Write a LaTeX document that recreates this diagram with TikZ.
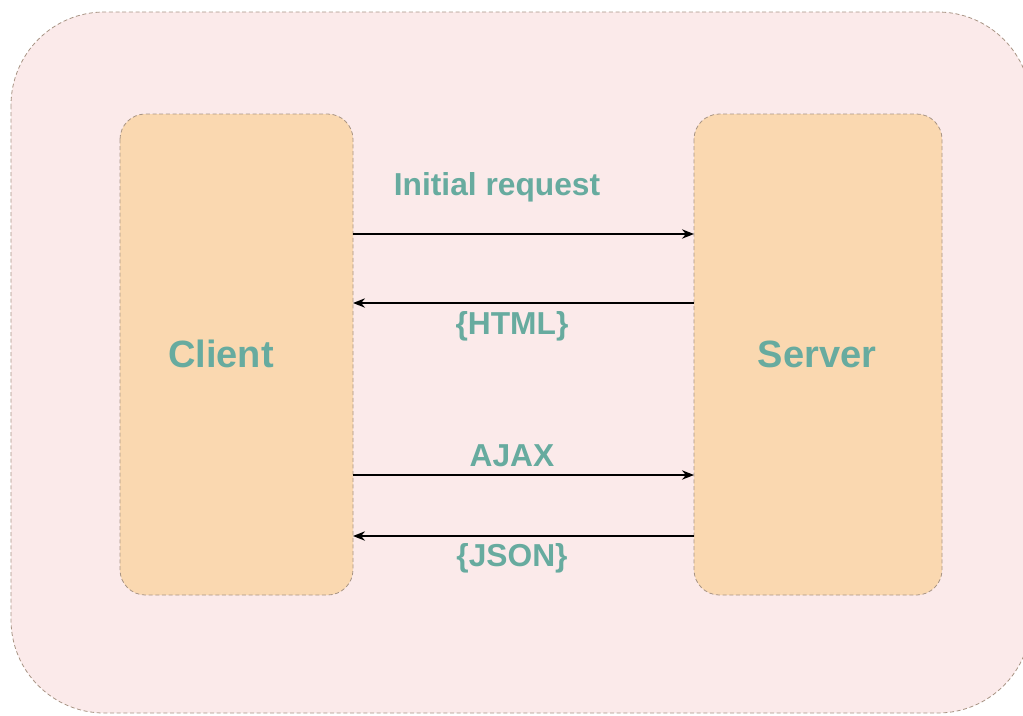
\documentclass[tikz,border=0pt]{standalone}
\usepackage{fontspec}
\setmainfont{Liberation Sans}
\usetikzlibrary{arrows.meta}
\definecolor{tealtxt}{HTML}{67AB9F}
\definecolor{panelfill}{HTML}{FBEAEA}
\definecolor{boxfill}{HTML}{FAD8B0}
\definecolor{edgegray}{HTML}{A89484}
\tikzset{
  panel/.style={draw=edgegray, dashed, dash pattern=on 3pt off 2pt, fill=panelfill, line width=0.6pt, rounded corners=70pt},
  party/.style={draw=edgegray, dashed, dash pattern=on 3pt off 2pt, fill=boxfill, line width=0.6pt, rounded corners=19pt},
  bigtxt/.style={text=tealtxt, font=\bfseries\fontsize{28.5}{33}\selectfont},
  msgtxt/.style={text=tealtxt, font=\bfseries\fontsize{23.8}{28}\selectfont},
  msg/.style={draw=black, line width=1.2pt, -{Stealth[length=9pt,width=7pt]}}
}
\begin{document}
\begin{tikzpicture}[x=0.75pt, y=-0.75pt]
\useasboundingbox (0,0) rectangle (1023,715);
\path[clip] (0,0) rectangle (1023,715);
% outer panel
\path[panel] (11,12) rectangle (1031,713);
% client and server boxes
\path[party] (120,114) rectangle (353,595);
\path[party] (694,114) rectangle (942,595);
\node[bigtxt] (client) at (221,354) {Client};
\node[bigtxt] (server) at (817,354) {Server};
% connector anchors on the box edges
\coordinate (c1) at (353,234); \coordinate (s1) at (694,234);
\coordinate (c2) at (353,303); \coordinate (s2) at (694,303);
\coordinate (c3) at (353,475); \coordinate (s3) at (694,475);
\coordinate (c4) at (353,536); \coordinate (s4) at (694,536);
\draw[msg] (c1) -- (s1);
\draw[msg] (s2) -- (c2);
\draw[msg] (c3) -- (s3);
\draw[msg] (s4) -- (c4);
% message labels
\node[msgtxt] (l1) at (497,187) {Initial request};
\node[msgtxt] (l2) at (512,326) {\{HTML\}};
\node[msgtxt] (l3) at (512,456) {AJAX};
\node[msgtxt] (l4) at (512,558) {\{JSON\}};
\end{tikzpicture}
\end{document}
